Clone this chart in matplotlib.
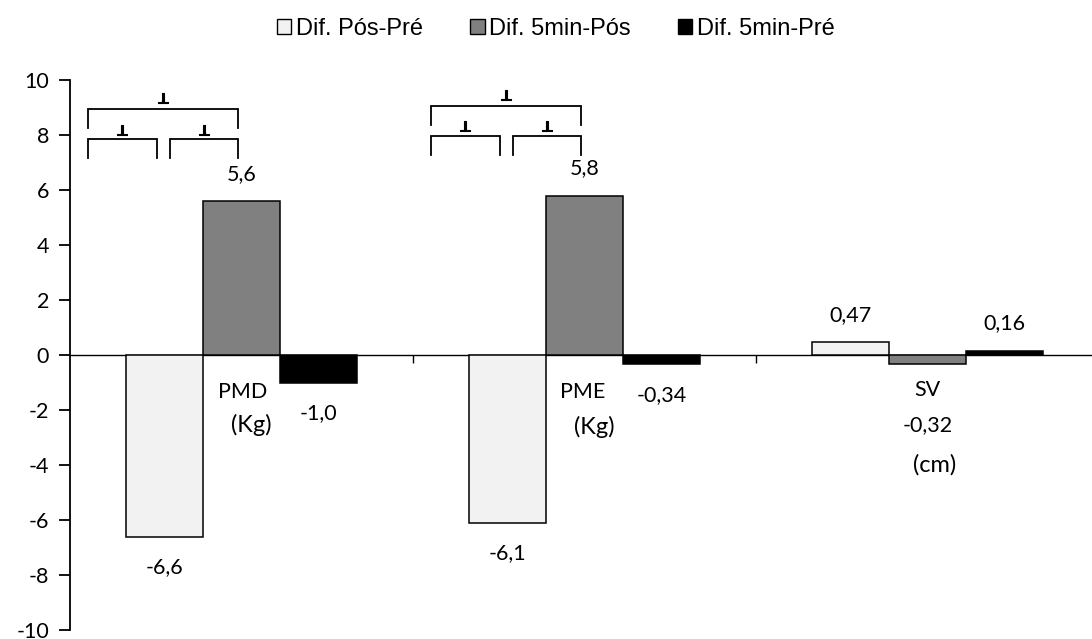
import matplotlib
matplotlib.use("Agg")
import matplotlib.pyplot as plt
import numpy as np
from matplotlib.patches import Patch

categories = ["PMD", "PME", "SV"]
units = ["(Kg)", "(Kg)", "(cm)"]
series_names = ["Dif. Pós-Pré", "Dif. 5min-Pós", "Dif. 5min-Pré"]
pos_pre = [-6.6, -6.1, 0.47]
min5_pos = [5.6, 5.8, -0.32]
min5_pre = [-1.0, -0.34, 0.16]
value_labels = [["-6,6", "-6,1", "0,47"],
                ["5,6", "5,8", "-0,32"],
                ["-1,0", "-0,34", "0,16"]]
yticks = [-10, -8, -6, -4, -2, 0, 2, 4, 6, 8, 10]

colors = ["#f2f2f2", "#808080", "#000000"]
series = [pos_pre, min5_pos, min5_pre]

plt.rcParams['font.family'] = ['Lato', 'DejaVu Sans']
FS = 15.5

W, H = 1092, 639
fig = plt.figure(figsize=(W / 100, H / 100), dpi=100)
ax = fig.add_axes([70 / W, 9 / H, (W - 70) / W, (630 - 80) / H])

x = np.arange(len(categories))
bw = 0.2245
for i, (vals, c) in enumerate(zip(series, colors)):
    xs = x + (i - 1) * bw
    ax.bar(xs, vals, width=bw, color=c, edgecolor="black", linewidth=1.1, zorder=3)
    for j, (xx, v) in enumerate(zip(xs, vals)):
        lab = value_labels[i][j]
        if categories[j] == "SV" and i == 1:
            off = -44
        elif v >= 0:
            off = 19.5
        else:
            off = -22
        ax.annotate(lab, (xx, v), xytext=(0, off), textcoords="offset points",
                    ha="center", va="center", fontsize=FS)

# category labels placed inside plot
cat_pos = {"PMD": (0.004, -1.35, 0.03, -2.55), "PME": (0.996, -1.35, 1.03, -2.6),
           "SV": (2.0, -1.27, 2.02, -4.0)}
for c, u in zip(categories, units):
    a, b, cc, d = cat_pos[c]
    ax.text(a, b, c, ha="center", va="center", fontsize=FS)
    ax.text(cc, d, u, ha="center", va="center", fontsize=17)

# significance brackets
def bracket(x0, x1, ytop, ybot, lw=1.3):
    ax.plot([x0, x0, x1, x1], [ybot, ytop, ytop, ybot], color="black", lw=lw,
            solid_joinstyle="miter", zorder=4, clip_on=False)

def star(xc, y):
    ax.plot([xc], [y], marker=r'$\perp$', color="black", ms=7.5, mew=0.8,
            zorder=4, clip_on=False)

for k, dy in zip([0, 1], [0.0, 0.11]):
    left, mid_l, mid_r, right = k - 0.4475, k - 0.2464, k - 0.2085, k - 0.0102
    bracket(left, right, 8.95 + dy, 8.25 + dy)
    bracket(left, mid_l, 7.85 + dy, 7.16 + dy)
    bracket(mid_r, right, 7.85 + dy, 7.16 + dy)
    star((left + right) / 2, 9.35 + dy)
    star((left + mid_l) / 2, 8.2 + dy)
    star((mid_r + right) / 2, 8.2 + dy)

ax.set_xlim(-0.5, 2.48)
ax.set_ylim(-10, 10)
ax.set_yticks(yticks)
ax.set_yticklabels([str(t) for t in yticks], fontsize=FS)
ax.tick_params(axis="y", direction="out", length=8, width=1.3, pad=7)
ax.spines["top"].set_visible(False)
ax.spines["right"].set_visible(False)
ax.spines["left"].set_linewidth(1.3)
ax.spines["bottom"].set_position(("data", 0))
ax.spines["bottom"].set_linewidth(1.0)
ax.spines["bottom"].set_zorder(2)
ax.set_xticks([0.5, 1.5])
ax.set_xticklabels([])
ax.tick_params(axis="x", direction="out", length=6, width=1.0)

handles = [Patch(facecolor=c, edgecolor="black", linewidth=1.0) for c in colors]
fig.legend(handles, series_names, loc="center", bbox_to_anchor=(556 / W, 1 - 29 / H),
           ncol=3, frameon=False, handlelength=0.6, handleheight=0.6,
           handletextpad=0.2, columnspacing=2.0,
           prop={"family": "Liberation Sans", "size": 17})

fig.savefig("out.png", dpi=100)
